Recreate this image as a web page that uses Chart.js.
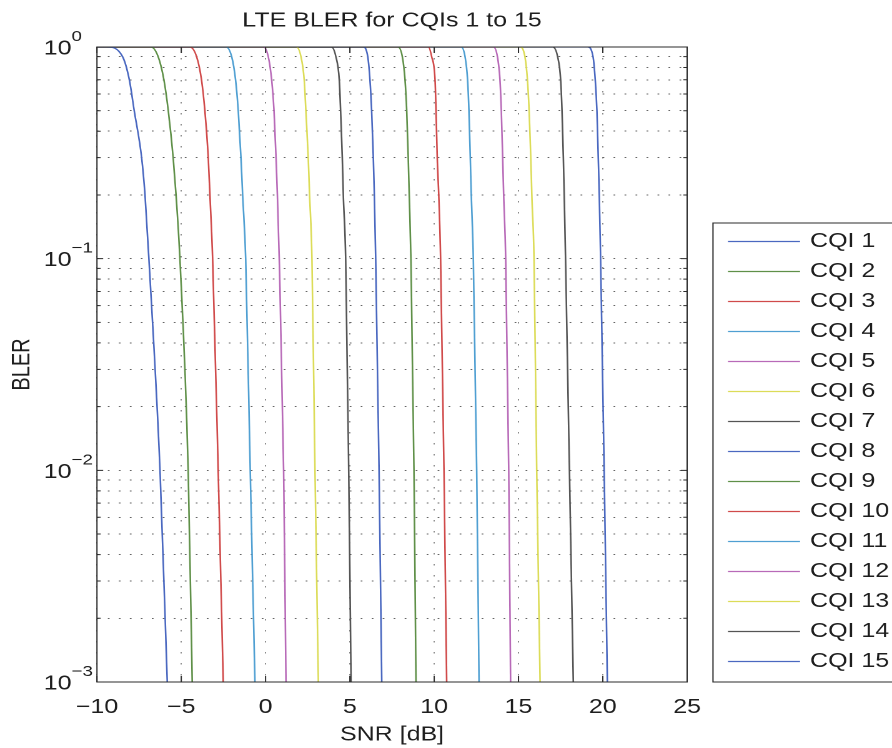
<!DOCTYPE html>
<html>
<head>
<meta charset="utf-8">
<title>LTE BLER for CQIs 1 to 15</title>
<script src="https://cdn.jsdelivr.net/npm/chart.js@4.4.1/dist/chart.umd.min.js"></script>
<style>
  html, body { margin: 0; padding: 0; background: #fff; overflow: hidden; }
  /* the figure is printed wider than tall: stretch the whole chart horizontally */
  #wrap { width: 714px; height: 748px; transform: scaleX(1.2493); transform-origin: 0 0; }
</style>
</head>
<body>
<div id="wrap"><canvas id="blerChart"></canvas></div>
<script>
const blerLevels = [1, 1, 0.9, 0.7, 0.5, 0.3, 0.2, 0.1, 0.01, 0.001];

// SNR [dB] of each CQI curve at the levels above
const snrCqi1  = [-10, -9.4, -8.48, -8.08, -7.79, -7.35, -7.15, -6.92, -6.26, -5.83];
const snrCqi2  = [-10, -6.8, -6.37, -6.03, -5.77, -5.48, -5.31, -5.08, -4.59, -4.35];
const snrCqi3  = [-10, -4.5, -4.09, -3.80, -3.60, -3.40, -3.30, -3.14, -2.81, -2.51];
const snrCqi4  = [-10, -2.35, -2.01, -1.78, -1.62, -1.46, -1.36, -1.18, -0.91, -0.63];
const snrCqi5  = [-10, -0.12, 0.16, 0.36, 0.50, 0.62, 0.70, 0.81, 1.07, 1.21];
const snrCqi6  = [-10, 1.82, 2.10, 2.29, 2.39, 2.53, 2.61, 2.75, 2.93, 3.13];
const snrCqi7  = [-10, 3.90, 4.17, 4.37, 4.45, 4.55, 4.61, 4.75, 4.93, 5.07];
const snrCqi8  = [-10, 5.78, 6.06, 6.19, 6.29, 6.39, 6.45, 6.53, 6.73, 6.89];
const snrCqi9  = [-10, 7.85, 8.11, 8.27, 8.37, 8.46, 8.52, 8.62, 8.80, 8.92];
const snrCqi10 = [-10, 9.65, 9.85, 10.05, 10.11, 10.18, 10.27, 10.38, 10.58, 10.74];
const snrCqi11 = [-10, 11.60, 11.83, 11.98, 12.06, 12.14, 12.20, 12.32, 12.52, 12.66];
const snrCqi12 = [-10, 13.51, 13.75, 13.90, 13.98, 14.06, 14.12, 14.24, 14.42, 14.53];
const snrCqi13 = [-10, 15.10, 15.38, 15.53, 15.63, 15.73, 15.79, 15.92, 16.08, 16.28];
const snrCqi14 = [-10, 17.03, 17.32, 17.50, 17.58, 17.66, 17.71, 17.79, 18.02, 18.25];
const snrCqi15 = [-10, 19.10, 19.42, 19.55, 19.65, 19.73, 19.79, 19.87, 20.08, 20.27];

const cqiLabels = ["CQI 1", "CQI 2", "CQI 3", "CQI 4", "CQI 5", "CQI 6", "CQI 7", "CQI 8",
  "CQI 9", "CQI 10", "CQI 11", "CQI 12", "CQI 13", "CQI 14", "CQI 15"];
const snrSeries = [snrCqi1, snrCqi2, snrCqi3, snrCqi4, snrCqi5, snrCqi6, snrCqi7, snrCqi8,
  snrCqi9, snrCqi10, snrCqi11, snrCqi12, snrCqi13, snrCqi14, snrCqi15];

// axis ticks
const snrTicks = [-10, -5, 0, 5, 10, 15, 20, 25];
const blerDecades = [1, 0.1, 0.01, 0.001];
const blerExponents = ["0", "\u22121", "\u22122", "\u22123"];

// matlab line order (printed colours)
const lineColors = ["#4a68c0", "#5f9048", "#d04a4a", "#4f9fd2", "#b86ab8", "#dcdc58", "#555555"];

const FONT = '"Liberation Sans", Arial, Helvetica, sans-serif';

// minor + major log ticks for the dotted grid
const blerGridTicks = [];
blerDecades.slice(1).forEach((d) => {
    for (let k = 1; k < 10; k++) blerGridTicks.push(+(d * k).toPrecision(3));
});
blerGridTicks.push(1);

const datasets = snrSeries.map((snr, i) => ({
    label: cqiLabels[i],
    data: snr.map((x, k) => ({ x: x, y: blerLevels[k] })),
    borderColor: lineColors[i % lineColors.length],
    borderWidth: 1.3,
    pointRadius: 0,
    fill: false,
    cubicInterpolationMode: "monotone",
}));

// box, inward ticks, tick labels, titles and legend drawn like the matlab figure
const matlabFrame = {
    id: "matlabFrame",
    afterDraw(chart) {
        const { ctx, chartArea: a, scales } = chart;
        const xs = scales.x;
        const ys = scales.y;
        ctx.save();
        ctx.strokeStyle = "#2a2a2a";
        ctx.lineWidth = 1;
        ctx.strokeRect(a.left, a.top, a.right - a.left, a.bottom - a.top);

        // ticks pointing inwards on all four sides
        ctx.beginPath();
        snrTicks.forEach((v) => {
            const px = xs.getPixelForValue(v);
            ctx.moveTo(px, a.bottom); ctx.lineTo(px, a.bottom - 6);
            ctx.moveTo(px, a.top); ctx.lineTo(px, a.top + 6);
        });
        ys.ticks.forEach((t) => {
            const py = ys.getPixelForValue(t.value);
            const len = blerDecades.includes(t.value) ? 5 : 3;
            ctx.moveTo(a.left, py); ctx.lineTo(a.left + len, py);
            ctx.moveTo(a.right, py); ctx.lineTo(a.right - len, py);
        });
        ctx.stroke();

        ctx.fillStyle = "#1e1e1e";
        // y tick labels 10^n
        blerDecades.forEach((v, i) => {
            const py = ys.getPixelForValue(v);
            ctx.font = "20px " + FONT;
            ctx.textAlign = "left";
            ctx.textBaseline = "middle";
            ctx.fillText("10", 35, py + 2);
            const w = ctx.measureText("10").width;
            ctx.font = "15px " + FONT;
            ctx.textBaseline = "alphabetic";
            ctx.fillText(blerExponents[i], 35 + w, py - 6);
        });

        // x tick labels
        ctx.font = "20px " + FONT;
        ctx.textAlign = "center";
        ctx.textBaseline = "middle";
        snrTicks.forEach((v) => {
            const label = v < 0 ? "\u2212" + Math.abs(v) : String(v);
            ctx.fillText(label, xs.getPixelForValue(v), a.bottom + 25.5);
        });

        const cx = (a.left + a.right) / 2;
        ctx.fillText("LTE BLER for CQIs 1 to 15", cx, 21);
        ctx.fillText("SNR [dB]", cx, 735);

        ctx.save();
        ctx.translate(18.2, (a.top + a.bottom) / 2);
        ctx.rotate(-Math.PI / 2);
        ctx.fillText("BLER", 0, 0);
        ctx.restore();

        // legend box on the right
        const lx = 570.7;
        const ly = 223;
        ctx.strokeStyle = "#2a2a2a";
        ctx.strokeRect(lx, ly, 200, a.bottom - ly);
        ctx.textAlign = "left";
        chart.data.datasets.forEach((ds, i) => {
            const ry = 241.5 + i * 30;
            ctx.strokeStyle = ds.borderColor;
            ctx.lineWidth = 1.3;
            ctx.beginPath();
            ctx.moveTo(582.7, ry);
            ctx.lineTo(640.4, ry);
            ctx.stroke();
            ctx.fillText(ds.label, 648.4, ry);
        });
        ctx.restore();
    },
};

new Chart(document.getElementById("blerChart"), {
    type: "line",
    data: { datasets: datasets },
    options: {
        responsive: true,
        maintainAspectRatio: false,
        animation: false,
        devicePixelRatio: 2,
        layout: { padding: { left: 77.6, right: 164, top: 47, bottom: 66 } },
        plugins: {
            legend: { display: false },
            title: { display: false },
            tooltip: { enabled: false },
        },
        scales: {
            x: {
                type: "linear",
                min: -10,
                max: 25,
                ticks: { display: false, stepSize: 5 },
                grid: { drawTicks: false, color: "#8a8a8a", lineWidth: 1 },
                border: { display: false, dash: [1.5, 9.5] },
            },
            y: {
                type: "logarithmic",
                min: 0.001,
                max: 1,
                ticks: { display: false },
                afterBuildTicks: (scale) => {
                    scale.ticks = blerGridTicks.map((v) => ({ value: v }));
                },
                grid: { drawTicks: false, color: "#666", lineWidth: 1 },
                border: { display: false, dash: [1.4, 7.4] },
            },
        },
    },
    plugins: [matlabFrame],
});
</script>
</body>
</html>
